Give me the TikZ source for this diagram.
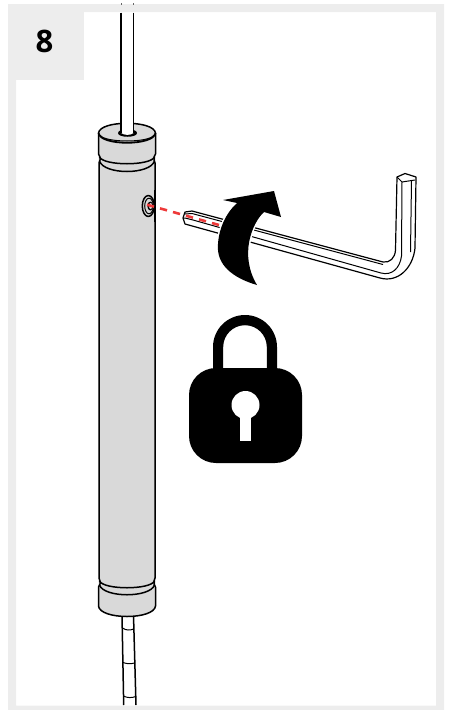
\documentclass[tikz,border=0pt]{standalone}
\usepackage{fontspec}
\setmainfont{Open Sans}
\definecolor{framegrey}{HTML}{EDEDED}
\definecolor{bodygrey}{HTML}{D9D9D9}
\definecolor{dashred}{HTML}{EE3A3A}
\tikzset{
  ink/.style={draw=black,line width=1.5pt,line join=round},
  thin ink/.style={draw=black,line width=1pt,line join=round},
  redline/.style={draw=dashred,line width=2.6pt,dash pattern=on 7.3pt off 6.2pt},
}
\begin{document}
\begin{tikzpicture}[x=1pt,y=-1pt]
\useasboundingbox (0,0) rectangle (450,710);
% frame
\fill[framegrey,even odd rule] (8,4) rectangle (444,710) (16,12) rectangle (436,705.5);
\fill[framegrey] (8,4) rectangle (84,80);
\node (num) at (44.5,41) {\fontsize{31}{31}\selectfont\bfseries 8};
% lower rod
\draw[ink] (122,615) -- (123.7,705);
\draw[ink] (133.5,615) -- (136,705);
\draw[thin ink] (122.5,628) .. controls (126,630.5) and (130,630.5) .. (133.5,629);
\draw[thin ink] (123,662.5) .. controls (127,664) and (131,664) .. (134.5,663);
\draw[thin ink] (123.5,696) .. controls (127,698) and (132,698) .. (135.8,696.5);
% body
\path[fill=bodygrey] (98.5,133) .. controls (100,120) and (154,120) .. (155.5,133) -- (155.5,606)
  .. controls (154,620) and (100,620) .. (98.5,606) -- cycle;
% outline
\draw[ink] (98.5,133) -- (98.5,154) -- (100,157) -- (100,160) -- (99,163) -- (99,578) -- (100,581) -- (100,584) -- (98.5,587) -- (98.5,606)
  .. controls (100,620) and (154,620) .. (155.5,606) -- (155.5,587) -- (154,584) -- (154,581) -- (155,578) -- (155,163) -- (154,160) -- (154,157) -- (155.5,154) -- (155.5,133);
% top cap
\draw[ink] (98.5,133) .. controls (100,120) and (154,120) .. (155.5,133);
\draw[ink,line width=1.8pt] (98.5,133) .. controls (100,146) and (154,146) .. (155.5,133);
\draw[thin ink] (100,135) .. controls (104,143) and (150,143) .. (154,135);
% collar and upper rod
\fill[black] (118,133) .. controls (118,128) and (137,128) .. (137,133)
  .. controls (137,138) and (118,138) .. (118,133) -- cycle;
\fill[white] (121,12.5) -- (133.5,12.5) -- (133.5,133) .. controls (131,135.5) and (124,135.5) .. (121,133) -- cycle;
\draw[ink] (121,12.5) -- (121,133);
\draw[ink] (133.5,12.5) -- (133.5,133);
\draw[thin ink,draw=black!60] (121,3) -- (121,5) (133.5,3) -- (133.5,5);
% grooves
\draw[ink] (99.5,157) .. controls (104,166) and (150,166) .. (154.5,157);
\draw[ink] (99.5,161) .. controls (104,175) and (150,175) .. (154.5,161);
\draw[ink] (99.5,581) .. controls (104,590) and (150,590) .. (154.5,581);
\draw[ink] (99.5,585) .. controls (104,598) and (150,598) .. (154.5,585);
% grub-screw hole
\draw[ink,fill=bodygrey] (148.3,206) ellipse (6pt and 10.5pt);
\draw[thin ink] (149,206) ellipse (4.3pt and 7.8pt);
\fill[black] (150.3,206) ellipse (3pt and 4.5pt);
\fill[bodygrey] (150.6,206) ellipse (1.7pt and 3pt);
\draw[ink] (155,190) -- (155,222);
% hex key
\draw[thin ink,line width=1.2pt,fill=white] (397,177) -- (405,173.5) -- (416,177) -- (415,248)
  .. controls (413,268) and (398,283) .. (380,278)
  -- (185,224) -- (183,218) -- (185,212) -- (192,211) -- (383,262)
  .. controls (390,263) and (395,258) .. (395.5,250) -- cycle;
\draw[thin ink] (397,177) -- (402,182) -- (415,180);
\draw[thin ink] (402,182) -- (401.5,256) .. controls (400,268) and (392,276) .. (381,273) -- (193,220) -- (185,218) -- (183,218);
\draw[thin ink] (411.5,181) -- (410.5,252);
\draw[thin ink] (185,214) -- (192,213.5) -- (383,264.5);
% red dashes
\draw[redline] (147,204.7) -- (219,225);
% curved arrow
\draw[draw=white,line width=3pt,fill=black,line join=round] (223,200) -- (274,191) -- (281,217) -- (264,212)
  .. controls (252,223) and (239,255) .. (257,285)
  .. controls (233,278) and (216,265) .. (218,244)
  .. controls (219,228) and (226,213) .. (237,203) -- cycle;
\fill[black] (223,200) -- (274,191) -- (281,217) -- (264,212)
  .. controls (252,223) and (239,255) .. (257,285)
  .. controls (233,278) and (216,265) .. (218,244)
  .. controls (219,228) and (226,213) .. (237,203) -- cycle;
% padlock
\fill[black] (213,369) -- (213,347) arc[start angle=180,end angle=360,radius=32] -- (277,369) -- (266.8,369) -- (266.8,347)
  arc[start angle=360,end angle=180,radius=21.8] -- (223.2,369) -- cycle;
\fill[black,rounded corners=27pt] (189,368) rectangle (302,463);
\fill[white] (245.5,405) circle (14pt);
\fill[white] (240,410) rectangle (251,441);
\end{tikzpicture}
\end{document}
